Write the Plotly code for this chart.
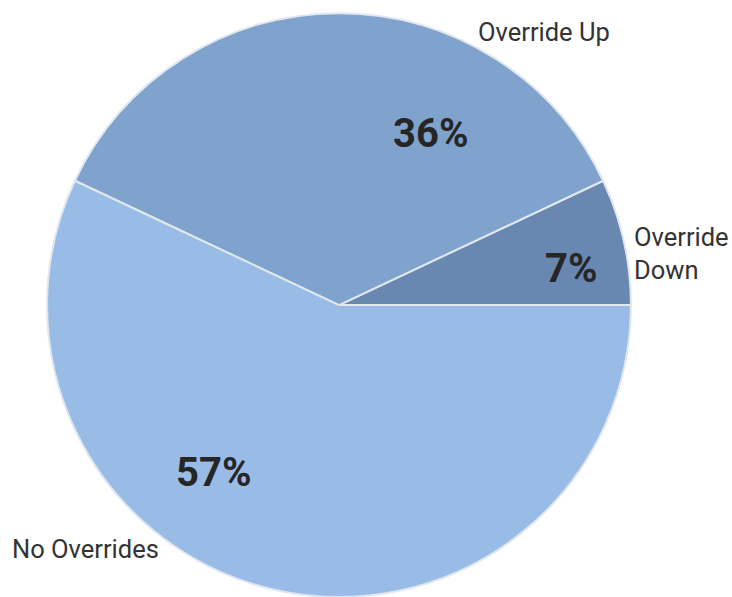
import plotly.graph_objects as go

# Share of forecasts by override type
categories = ["Override Down", "Override Up", "No Overrides"]
shares = [7, 36, 57]
colors = ["#6888b2", "#7fa3cd", "#99bce6"]

W, H = 732, 597

total = sum(shares)
# first slice begins at 3 o'clock and slices run counterclockwise
start_rotation = 90 - shares[0] / total * 360

fig = go.Figure(
    go.Pie(
        labels=categories,
        values=shares,
        sort=False,
        direction="counterclockwise",
        rotation=start_rotation,
        textinfo="none",
        hoverinfo="label+percent",
        marker=dict(colors=colors, line=dict(color="#e1e7ef", width=2)),
        domain=dict(x=[0.0642, 0.862], y=[0.0, 0.978]),
        showlegend=False,
    )
)

# category names placed around the pie (px positions in the page)
name_pos = {
    "Override Up": (544, 32, "center"),
    "Override Down": (632, 254, "left"),
    "No Overrides": (85, 549, "center"),
}
name_text = {
    "Override Up": "Override Up",
    "Override Down": "Override<br>Down",
    "No Overrides": "No Overrides",
}
# percentage labels inside the slices
pct_pos = {
    "Override Down": (571, 268),
    "Override Up": (430, 133),
    "No Overrides": (213, 473),
}

annotations = []
for cat, val in zip(categories, shares):
    x, y, anchor = name_pos[cat]
    annotations.append(dict(
        x=x / W, y=1 - y / H, xref="paper", yref="paper",
        text=name_text[cat], showarrow=False, xanchor=anchor, yanchor="middle",
        align="left",
        font=dict(family="Roboto", size=25.5, color="#333333"),
    ))
    px, py = pct_pos[cat]
    annotations.append(dict(
        x=px / W, y=1 - py / H, xref="paper", yref="paper",
        text=f"<b>{round(val / total * 100)}%</b>", showarrow=False,
        xanchor="center", yanchor="middle",
        font=dict(family="Roboto", size=40, color="#262626"),
    ))

fig.update_layout(
    width=W, height=H,
    margin=dict(l=0, r=0, t=0, b=0),
    paper_bgcolor="white",
    plot_bgcolor="white",
    annotations=annotations,
)

fig.write_html("out.html")
